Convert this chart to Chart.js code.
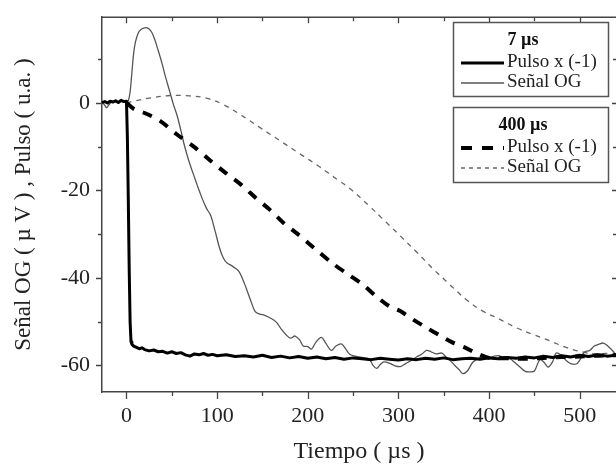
<!DOCTYPE html>
<html><head><meta charset="utf-8">
<script src="https://cdn.jsdelivr.net/npm/chart.js@4/dist/chart.umd.min.js"></script>
<style>html,body{margin:0;padding:0;background:#fff}#wrap{width:616px;height:468px;position:relative}</style>
</head><body><div id="wrap"><canvas id="c"></canvas></div>
<script>
// ---- Data ----
const xTickLabels = [0, 100, 200, 300, 400, 500];
const yTickLabels = [0, -20, -40, -60];

// 7 µs pulse x(-1)
const pulse7X = [
  -27,-24,-21,-18,-15,-12,-9,-6,-3,0,
  1,2,3,4,5,6,8,11,14,17,20,
  25,30,35,40,45,50,55,60,65,70,75,80,85,90,95,100,
  110,120,130,140,150,160,170,180,190,200,
  210,220,230,240,250,260,270,280,290,300,
  310,320,330,340,350,360,370,380,390,400,
  410,420,430,440,450,460,470,480,490,500,
  510,520,530,540];
const pulse7Y = [
  0.1,0.3,0.0,0.4,0.2,0.5,0.1,0.6,0.3,0.4,
  -8,-22,-38,-50,-54.6,-55.2,-55.6,-55.9,-56.2,-56.0,-56.4,
  -56.7,-56.5,-56.9,-56.8,-57.2,-56.9,-57.3,-57.1,-57.6,-57.9,-57.4,-57.6,-57.3,-57.7,-57.5,-57.8,
  -57.6,-58.0,-57.8,-58.1,-57.7,-58.2,-57.9,-58.3,-58.0,-58.4,
  -58.1,-58.5,-58.2,-58.6,-58.3,-58.5,-58.7,-58.4,-58.6,-58.8,
  -58.5,-58.7,-58.4,-58.6,-58.3,-58.7,-58.5,-58.4,-58.6,-58.3,
  -58.5,-58.2,-58.4,-58.1,-58.3,-57.9,-58.2,-57.8,-58.1,-57.7,
  -58.0,-57.6,-57.9,-57.7];

// 7 µs OG signal
const og7X = [
  -27,-24,-22,-20,-17,-14,-10,-6,-3,0,
  2,4,6,8,10,13,16,19,22,25,
  28,31,35,39,43,48,52,56,60,64,
  69,74,78,83,88,93,98,103,107,111,
  116,120,124,128,132,137,142,147,152,157,
  162,166,171,176,181,186,191,195,200,204,
  209,215,220,226,231,237,242,246,252,257,
  263,268,272,276,280,284,290,296,302,308,
  314,320,326,331,336,342,348,352,357,362,
  367,371,376,382,388,393,398,404,410,416,
  423,428,434,440,445,450,456,461,465,470,
  474,479,485,490,496,500,505,511,516,522,
  526,530,536,540];
const og7Y = [
  0.2,-0.5,-1.1,-0.6,0.1,0.3,0.2,0.4,0.6,0.3,
  0.5,2.5,7,11.5,14,16,16.8,17.1,17.2,16.9,
  16.1,14.6,12.0,9.2,6.0,2.4,-0.5,-3.0,-6.3,-9.8,
  -13.4,-16.4,-18.8,-21.6,-24.0,-25.8,-29.5,-33.4,-35.5,-36.6,
  -37.2,-37.8,-38.5,-40.2,-42.3,-45.2,-47.7,-48.3,-48.5,-49.0,
  -49.6,-50.3,-51.8,-53.0,-53.8,-53.3,-54.2,-55.6,-55.7,-56.3,
  -54.7,-53.6,-55.0,-56.6,-55.6,-55.1,-56.3,-57.4,-57.9,-58.1,
  -58.3,-58.6,-60.0,-60.7,-59.8,-59.2,-59.5,-60.1,-60.3,-59.6,
  -58.9,-58.1,-57.4,-56.6,-56.9,-57.4,-57.2,-58.0,-58.9,-60.0,
  -61.0,-61.9,-61.3,-59.3,-58.4,-58.1,-58.3,-58.0,-57.8,-58.2,
  -58.5,-59.3,-60.4,-61.4,-61.5,-61.3,-58.7,-59.4,-60.4,-59.2,
  -57.2,-57.6,-58.9,-59.6,-59.7,-58.8,-57.0,-56.6,-55.6,-55.1,
  -54.9,-55.4,-56.6,-57.6];

// 400 µs pulse x(-1)
const pulse400X = [0,9,20,37,55,75,92,110,127,143,158,173,189,206,228,246,261,276,290,302,316,331,346,360,373,388,400,420,440,460,480,500,520,540];
const pulse400Y = [0,-1.5,-2.3,-4.1,-7.1,-10.1,-13.1,-16.1,-18.8,-21.8,-24.4,-27.4,-30.0,-33.0,-36.8,-39.4,-41.6,-44.3,-46.5,-47.6,-49.5,-51.4,-53.2,-54.8,-55.9,-57.4,-58.3,-58.4,-58.5,-58.3,-58.1,-58.0,-57.8,-57.7];

// 400 µs OG signal
const og400X = [0,10,25,48,70,88,107,125,147,169,191,213,233,246,268,283,302,320,338,357,375,393,412,430,448,467,485,504,518,530,540];
const og400Y = [0,0.5,1.1,1.7,1.6,1.1,-0.4,-2.6,-5.6,-8.6,-11.6,-14.6,-17.6,-19.5,-23.6,-26.6,-30.4,-34.1,-37.9,-41.6,-45.0,-47.6,-49.5,-51.4,-52.9,-54.4,-55.9,-57.0,-57.4,-57.3,-57.5];

const legendGroups = ['7 µs', '400 µs'];
const legendLabels = ['Pulso x (-1)', 'Señal OG'];

// ---- Chart ----
const FONT = '"Liberation Serif","Times New Roman",serif';
const AXIS = '#444';
const pts = (xs, ys) => xs.map((x, i) => ({x, y: ys[i]}));

const framePlugin = {
  id: 'frame',
  afterDraw(chart) {
    const {ctx, chartArea: {left, right, top, bottom}, scales: {x, y}} = chart;
    ctx.save();
    ctx.strokeStyle = AXIS;
    ctx.lineWidth = 1.5;
    // top border
    ctx.beginPath(); ctx.moveTo(left, top); ctx.lineTo(right, top); ctx.stroke();
    ctx.lineWidth = 1.3;
    // x ticks
    for (let v = 0; v <= 500; v += 50) {
      const px = Math.round(x.getPixelForValue(v)) + 0.5;
      const major = v % 100 === 0;
      ctx.beginPath();
      ctx.moveTo(px, bottom); ctx.lineTo(px, bottom + (major ? 7 : 4));
      ctx.moveTo(px, top); ctx.lineTo(px, top + (major ? 6 : 4));
      ctx.stroke();
    }
    // y ticks
    for (let v = -60; v <= 10; v += 10) {
      const py = Math.round(y.getPixelForValue(v)) + 0.5;
      const major = v % 20 === 0;
      ctx.beginPath();
      ctx.moveTo(left, py); ctx.lineTo(left - (major ? 6 : 4), py);
      ctx.moveTo(right, py); ctx.lineTo(right - (major ? 4 : 3), py);
      ctx.stroke();
    }
    // legend boxes
    const boxes = [
      {y0: 22, y1: 96, title: legendGroups[0]},
      {y0: 107, y1: 182, title: legendGroups[1]}
    ];
    const bx0 = 453, bx1 = 608;
    boxes.forEach((b, gi) => {
      ctx.fillStyle = '#fff';
      ctx.fillRect(bx0, b.y0, bx1 - bx0, b.y1 - b.y0);
      ctx.strokeStyle = '#555';
      ctx.lineWidth = 1.5;
      ctx.setLineDash([]);
      ctx.strokeRect(bx0 + 0.5, b.y0 + 0.5, bx1 - bx0, b.y1 - b.y0);
      ctx.fillStyle = '#111';
      ctx.textBaseline = 'middle';
      ctx.textAlign = 'center';
      ctx.font = 'bold 18px ' + FONT;
      ctx.fillText(b.title, 523, b.y0 + 18);
      ctx.font = '19px ' + FONT;
      ctx.textAlign = 'left';
      [b.y0 + 40, b.y0 + 60].forEach((ry, ri) => {
        ctx.fillStyle = '#222';
        ctx.fillText(legendLabels[ri], 507, ry);
        ctx.beginPath();
        if (gi === 0) {
          ctx.strokeStyle = ri === 0 ? '#000' : '#555';
          ctx.lineWidth = ri === 0 ? 3 : 1.3;
          ctx.setLineDash([]);
        } else {
          ctx.strokeStyle = ri === 0 ? '#000' : '#666';
          ctx.lineWidth = ri === 0 ? 4 : 1.3;
          ctx.setLineDash(ri === 0 ? [11, 10] : [4, 4]);
        }
        ctx.moveTo(461, ry + 1); ctx.lineTo(504, ry + 1);
        ctx.stroke();
      });
    });
    ctx.restore();
  }
};

new Chart(document.getElementById('c'), {
  type: 'line',
  data: {
    datasets: [
      {label: 'Pulso x (-1) 7 µs', data: pts(pulse7X, pulse7Y), borderColor: '#000', borderWidth: 3, pointRadius: 0, tension: 0, borderJoinStyle: 'round'},
      {label: 'Pulso x (-1) 400 µs', data: pts(pulse400X, pulse400Y), borderColor: '#000', borderWidth: 4, borderDash: [10, 9], pointRadius: 0, tension: 0.3},
      {label: 'Señal OG 7 µs', data: pts(og7X, og7Y), borderColor: '#555', borderWidth: 1.3, pointRadius: 0, tension: 0.35},
      {label: 'Señal OG 400 µs', data: pts(og400X, og400Y), borderColor: '#666', borderWidth: 1.3, borderDash: [5, 5], pointRadius: 0, tension: 0.4}
    ]
  },
  options: {
    responsive: true, maintainAspectRatio: false, animation: false, devicePixelRatio: 1,
    layout: {padding: {top: 11, right: 0, left: 0, bottom: 0}},
    plugins: {legend: {display: false}, tooltip: {enabled: false}},
    scales: {
      x: {
        type: 'linear', min: -27, max: 540,
        afterFit(s) { s.height = 76; },
        grid: {display: false, drawTicks: true, tickLength: 8},
        border: {display: true, color: AXIS, width: 1.5},
        ticks: {stepSize: 50, includeBounds: false, autoSkip: false, maxRotation: 0, padding: 3, color: '#222',
          font: {family: FONT, size: 22},
          callback: v => xTickLabels.includes(v) ? String(v) : ''},
        title: {display: true, text: 'Tiempo ( µs )', color: '#222', font: {family: FONT, size: 24}, padding: {top: 0, bottom: 2}}
      },
      y: {
        type: 'linear', min: -66.1, max: 19.6,
        afterFit(s) { s.width = 102; },
        grid: {display: false, drawTicks: true, tickLength: 8},
        border: {display: true, color: AXIS, width: 1.5},
        ticks: {stepSize: 10, includeBounds: false, autoSkip: false, padding: 4, color: '#222',
          font: {family: FONT, size: 22},
          callback: v => yTickLabels.includes(v) ? String(v) : ''},
        title: {display: true, text: 'Señal OG ( µ V ) , Pulso ( u.a. )', color: '#222', font: {family: FONT, size: 23}, padding: {top: 10, bottom: 0}}
      }
    }
  },
  plugins: [framePlugin]
});
</script>
</body></html>
